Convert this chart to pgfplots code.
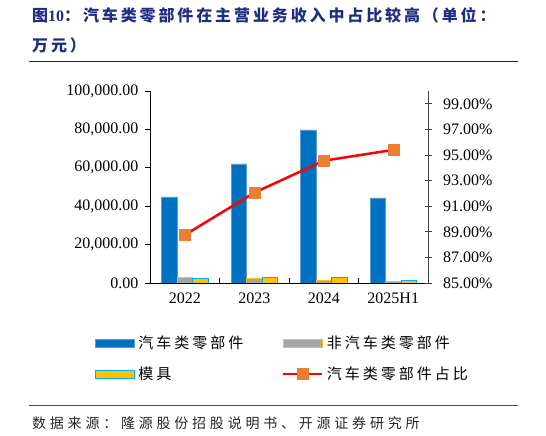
\documentclass[border=0pt]{standalone}
\usepackage{fontspec}
\setmainfont{Liberation Serif}
\newfontfamily\cjk[LetterSpace=20]{Noto Sans CJK SC}
\newfontfamily\cjks[LetterSpace=27]{Noto Sans CJK SC}
\newfontfamily\cjkt[LetterSpace=18]{Noto Sans CJK SC}
\usepackage{pgfplots}
\pgfplotsset{compat=1.18}
\definecolor{cBlue}{HTML}{0070C0}
\definecolor{cBlueEdge}{HTML}{5B9BD5}
\definecolor{cGray}{HTML}{A5A5A5}
\definecolor{cYel}{HTML}{FFC000}
\definecolor{cCyan}{HTML}{00B0F0}
\definecolor{cOrange}{HTML}{ED7D31}
\definecolor{cNavy}{RGB}{30,45,130}
\pgfplotsset{
  barleg/.style={legend image code/.code={\draw[##1] (0bp,-4bp) rectangle (39bp,4bp);}},
  lineleg/.style={legend image code/.code={\draw[mark repeat=2,mark phase=2,##1] plot coordinates {(0bp,0bp) (19.5bp,0bp) (39bp,0bp)};}},
  ticklab/.style={font=\fontsize{16bp}{18bp}\selectfont, /pgf/number format/assume math mode=true},
}
\begin{document}
\begin{tikzpicture}
\path[use as bounding box] (0bp,0bp) rectangle (546bp,436bp);
\node[anchor=west, inner sep=0pt, text=cNavy, font=\cjkt\bfseries\fontsize{16bp}{18bp}\selectfont] at (32bp,420.5bp) {图{\normalfont\bfseries 10}：汽车类零部件在主营业务收入中占比较高（单位：};
\node[anchor=west, inner sep=0pt, text=cNavy, font=\cjkt\bfseries\fontsize{16bp}{18bp}\selectfont] at (32bp,390.5bp) {万元）};
\draw[line width=1bp, black!85] (29bp,374bp) -- (518bp,374bp);
\draw[line width=1bp, black!70] (29bp,30bp) -- (518bp,30bp);
\node[anchor=west, inner sep=0pt, text=black!85, font=\cjks\fontsize{14bp}{16bp}\selectfont] at (32bp,13bp) {数据来源：隆源股份招股说明书、开源证券研究所};

\begin{axis}[
  at={(150bp,153bp)}, anchor=south west, scale only axis,
  width=278bp, height=192bp,
  ybar=0pt, bar width=15.5bp,
  xmin=-0.5, xmax=3.5, ymin=0, ymax=100000,
  xtick={-0.5,0.5,1.5,2.5,3.5}, x tick label as interval,
  xticklabels={2022,2023,2024,2025H1},
  ytick={0,20000,40000,60000,80000,100000},
  scaled y ticks=false,
  axis x line*=bottom, axis y line*=left,
  axis line style={line width=0.8bp, black},
  tick style={line width=0.8bp, black},
  tick align=inside, major tick length=5bp,
  y tick style={xshift=-5bp},
  ticklabel style={ticklab},
  xticklabel style={yshift=-6bp},
  yticklabel style={xshift=-8bp, /pgf/number format/.cd, fixed, fixed zerofill, precision=2, 1000 sep={,}},
]
\addplot[fill=cBlue, draw=cBlueEdge, line width=0.6bp] coordinates {(0,44800) (1,62000) (2,79700) (3,44300)};
\addplot[fill=cGray, draw=cYel, line width=0.8bp] coordinates {(0,3100) (1,2600) (2,1560) (3,1000)};
\addplot[fill=cYel, draw=cCyan, line width=0.8bp] coordinates {(0,2600) (1,2950) (2,3100) (3,1400)};
\end{axis}

\begin{axis}[
  at={(150bp,153bp)}, anchor=south west, scale only axis,
  width=278bp, height=192bp,
  xmin=-0.5, xmax=3.5, ymin=85, ymax=100,
  axis x line=none, axis y line*=right,
  axis line style={line width=0.8bp, black!75},
  ytick={85,87,89,91,93,95,97,99},
  yticklabel={\pgfmathprintnumber[fixed,fixed zerofill,precision=2]{\tick}\%},
  tick style={line width=0.8bp, black!75},
  tick align=center, major tick length=7bp,
  ticklabel style={ticklab},
  yticklabel style={xshift=8bp},
  legend columns=2,
  legend cell align=left,
  legend style={draw=none, fill=none, inner sep=0pt, outer sep=0pt,
    at={(axis description cs:-0.1978,-0.268)}, anchor=north west,
    font=\cjk\fontsize{15bp}{17bp}\selectfont,
    row sep=14bp, column sep=0pt,
    nodes={inner xsep=3.5bp, inner ysep=0pt, text width=140bp, minimum height=17bp, anchor=west}},
]
\addlegendimage{barleg, fill=cBlue, draw=cBlueEdge, line width=0.6bp}
\addlegendentry{汽车类零部件}
\addlegendimage{barleg, fill=cGray, draw=cYel, line width=0.8bp}
\addlegendentry{非汽车类零部件}
\addlegendimage{barleg, fill=cYel, draw=cCyan, line width=0.8bp}
\addlegendentry{模具}
\addplot[lineleg, red, line width=2.5bp, mark=square*, mark size=5.5bp, mark options={fill=cOrange, draw=cOrange, line width=0.5bp}] coordinates {(0,88.75) (1,92.05) (2,94.55) (3,95.4)};
\addlegendentry{汽车类零部件占比}
\end{axis}
\end{tikzpicture}
\end{document}
